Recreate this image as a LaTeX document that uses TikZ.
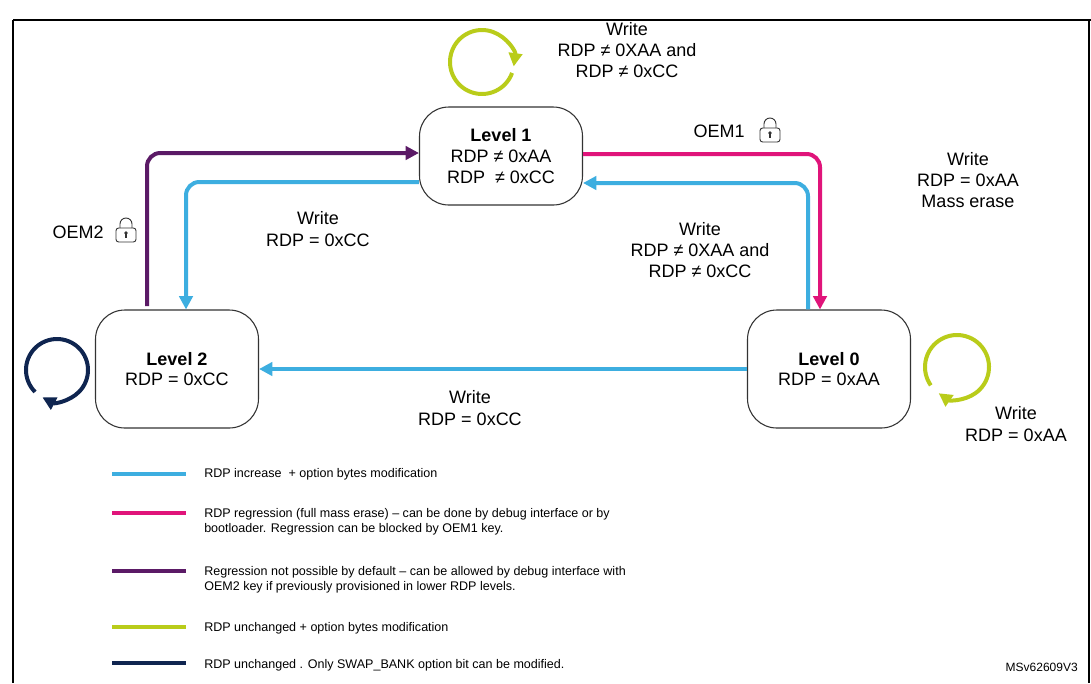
\documentclass[tikz,border=0pt]{standalone}
\usepackage{fontspec}
\setmainfont{Liberation Sans}
\usetikzlibrary{arrows.meta}
\definecolor{cblue}{HTML}{3DAEE0}
\definecolor{cmag}{HTML}{E0147A}
\definecolor{cpur}{HTML}{5B1A66}
\definecolor{cgrn}{HTML}{B9CC1A}
\definecolor{cnav}{HTML}{0F2550}
\begin{document}
\begin{tikzpicture}[x=0.75pt,y=-0.75pt,
  state/.style={draw=black!80,line width=0.8pt,rounded corners=22pt,minimum width=163*0.75pt,minimum height=118*0.75pt,align=center,font=\fontsize{13.5}{15.5}\selectfont,inner sep=0pt},
  lbl/.style={align=center,font=\fontsize{13.5}{16}\selectfont,inner sep=0pt},
  leg/.style={anchor=west,align=left,font=\fontsize{9.4}{11.5}\selectfont,inner sep=0pt},
  conn/.style={line width=3pt,rounded corners=10pt,-{Triangle[length=10pt,width=10pt]}},
  legline/.style={line width=3pt},
  loop/.style={line width=3pt,-{Triangle[length=10pt,width=10pt]}},
  lock/.pic={\draw[black!80,line width=0.7pt,rounded corners=2pt] (-10,-1) rectangle (10,13);
             \draw[black!80,line width=0.7pt] (-6,-1) -- (-6,-5) arc[start angle=180,end angle=360,radius=6] -- (6,-1);
             \fill[black!80] (0,4) circle (1.8); \draw[black!80,line width=1pt] (0,4)--(0,9);}]
\useasboundingbox (0,0) rectangle (1091,683);
\fill[white] (0,0) rectangle (1091,683);
% frame
\draw[line width=2.2pt] (13,20) -- (1091,20);
\draw[line width=1.2pt] (13,20) -- (13,683);
\draw[line width=1.2pt] (1089,20) -- (1089,683);
% states
\node[state,minimum height=98*0.75pt] (L1) at (501,156) {\textbf{Level 1}\\RDP ≠ 0xAA\\RDP \ ≠ 0xCC};
\node[state] (L2) at (177,369) {\textbf{Level 2}\\RDP = 0xCC};
\node[state] (L0) at (829,369) {\textbf{Level 0}\\RDP = 0xAA};
% connectors
\draw[conn,cpur] (147,306) -- (147,153) -- (L1.west |- 0,153);
\draw[conn,cblue] (L1.west |- 0,182) -- (186,182) -- (L2.north -| 186,0);
\draw[conn,cmag] (L1.east |- 0,154) -- (820,154) -- (L0.north -| 820,0);
\draw[conn,cblue] (L0.north -| 808,0) -- (808,183) -- (L1.east |- 0,183);
\draw[conn,cblue] (L0.west) -- (L2.east);
% loops
\coordinate (g1) at (482,62);
\draw[loop,cgrn] ([shift={(20:32)}]g1) arc[start angle=20,end angle=368,radius=32];
\coordinate (g0) at (957,367);
\draw[loop,cgrn] ([shift={(145:32)}]g0) arc[start angle=145,end angle=485,radius=32];
\coordinate (n2) at (57,370);
\draw[loop,cnav] ([shift={(135:31)}]n2) arc[start angle=135,end angle=478,radius=31];
% labels
\node[lbl] (t1) at (627,50) {Write\\RDP ≠ 0XAA and\\RDP ≠ 0xCC};
\node[lbl,anchor=east] (o1) at (745,131) {OEM1};
\pic at (770,129) {lock};
\node[lbl] (t2) at (968,180) {Write\\RDP = 0xAA\\Mass erase};
\node[lbl] (t3) at (318,229) {Write\\RDP = 0xCC};
\node[lbl,anchor=east] (o2) at (104,232) {OEM2};
\pic at (126,229) {lock};
\node[lbl] (t4) at (700,250) {Write\\RDP ≠ 0XAA and\\RDP ≠ 0xCC};
\node[lbl] (t5) at (470,408) {Write\\RDP = 0xCC};
\node[lbl] (t6) at (1016,424) {Write\\RDP = 0xAA};
% legend
\draw[legline,cblue] (112,474) -- (186,474);
\node[leg] (l1) at (204,474) {RDP increase \ + option bytes modification};
\draw[legline,cmag] (112,513) -- (186,513);
\node[leg] (l2) at (204,522) {RDP regression (full mass erase) – can be done by debug interface or by\\bootloader. Regression can be blocked by OEM1 key.};
\draw[legline,cpur] (112,571) -- (186,571);
\node[leg] (l3) at (204,580) {Regression not possible by default – can be allowed by debug interface with\\OEM2 key if previously provisioned in lower RDP levels.};
\draw[legline,cgrn] (112,627) -- (186,627);
\node[leg] (l4) at (204,628) {RDP unchanged + option bytes modification};
\draw[legline,cnav] (112,663) -- (186,663);
\node[leg] (l5) at (204,665) {RDP unchanged . Only SWAP\_BANK option bit can be modified.};
\node[leg,anchor=east,font=\fontsize{9}{11}\selectfont] (ms) at (1078,667) {MSv62609V3};
\end{tikzpicture}
\end{document}
